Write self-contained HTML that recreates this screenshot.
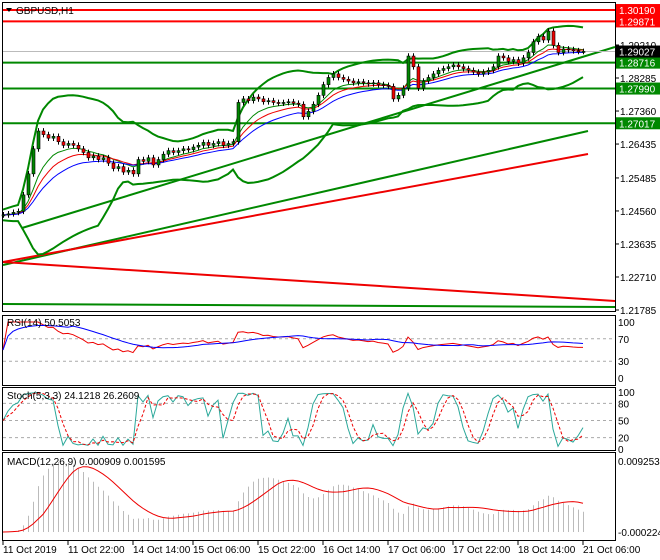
<!DOCTYPE html>
<html><head><meta charset="utf-8"><style>
body{margin:0;background:#fff;}
svg{display:block;font-family:"Liberation Sans",sans-serif;font-size:10px;}
</style></head><body>
<svg id="c" width="660" height="560"></svg>
<script>
const closes=[1.2445,1.2448,1.2452,1.2455,1.2501,1.2560,1.2630,1.2680,1.2670,1.2660,1.2665,1.2650,1.2640,1.2645,1.2640,1.2630,1.2620,1.2605,1.2610,1.2600,1.2605,1.2590,1.2575,1.2580,1.2565,1.2570,1.2560,1.2600,1.2595,1.2605,1.2585,1.2600,1.2615,1.2625,1.2620,1.2625,1.2630,1.2628,1.2635,1.2640,1.2648,1.2640,1.2645,1.2650,1.2640,1.2645,1.2650,1.2760,1.2770,1.2765,1.2775,1.2770,1.2762,1.2765,1.2760,1.2758,1.2760,1.2762,1.2758,1.2755,1.2720,1.2735,1.2755,1.2780,1.2810,1.2830,1.2840,1.2830,1.2825,1.2820,1.2815,1.2818,1.2815,1.2812,1.2815,1.2810,1.2808,1.2805,1.2770,1.2780,1.2800,1.2890,1.2860,1.2800,1.2820,1.2830,1.2840,1.2850,1.2855,1.2860,1.2865,1.2860,1.2855,1.2850,1.2845,1.2840,1.2845,1.2850,1.2860,1.2890,1.2885,1.2875,1.2880,1.2870,1.2885,1.2900,1.2930,1.2945,1.2935,1.2960,1.2920,1.2900,1.2910,1.2908,1.2905,1.2903,1.2903];
const hLevels=[1.30190,1.29871,1.28716,1.27990,1.27017];
const hColors=["#f00","#f00","#080","#080","#080"];
const priceTicks=[1.29210,1.28285,1.27360,1.26435,1.25485,1.24560,1.23635,1.22710,1.21785];
const timeLabels=["11 Oct 2019","11 Oct 22:00","14 Oct 14:00","15 Oct 06:00","15 Oct 22:00","16 Oct 14:00","17 Oct 06:00","17 Oct 22:00","18 Oct 14:00","21 Oct 06:00"];
const timeIdx=[0,13,26,38,51,64,77,90,103,116];
const lastPrice=1.29027;

const S=document.getElementById('c');const NS="http://www.w3.org/2000/svg";
function el(t,a,p){const e=document.createElementNS(NS,t);for(const k in a)e.setAttribute(k,a[k]);(p||S).appendChild(e);return e;}
const X=i=>3+5*i;
const Y=p=>45+(1.2921-p)*3569;
const R=615;
let f;
f=el('rect',{x:2.5,y:2.5,width:R-2,height:309,fill:'none',stroke:'#000'});
f=el('rect',{x:2.5,y:315.5,width:R-2,height:70,fill:'none',stroke:'#000'});
f=el('rect',{x:2.5,y:387.5,width:R-2,height:63,fill:'none',stroke:'#000'});
f=el('rect',{x:2.5,y:452.5,width:R-2,height:88,fill:'none',stroke:'#000'});

function L(x1,y1,x2,y2,c,n){const l=el('line',{x1,y1,x2,y2,stroke:c,'stroke-width':2});}
L(22,228,R,47,'#080','trend-line-upper');
L(3,265,588,131,'#080','trend-line-channel');
L(3,262,588,154,'#e00','trend-line-red-up');
L(3,262,R,301,'#e00','trend-line-red-down');
L(3,304,R,307,'#080','trend-line-bottom');
el('line',{x1:3,x2:R,y1:Y(lastPrice),y2:Y(lastPrice),stroke:'#bbb'});
hLevels.forEach((p,i)=>{const l=el('line',{x1:3,x2:R,y1:Y(p),y2:Y(p),stroke:hColors[i],'stroke-width':2});});

function sma(a,n,i){let s=0,c=0;for(let k=Math.max(0,i-n+1);k<=i;k++){s+=a[k];c++;}return s/c;}
function ema(a,n){const r=[];const k=2/(n+1);a.forEach((v,i)=>r.push(i?v*k+r[i-1]*(1-k):v));return r;}
const up=[],lo=[];
closes.forEach((c,i)=>{const m=sma(closes,20,i);let v=0,n=0;for(let k=Math.max(0,i-19);k<=i;k++){v+=(closes[k]-m)**2;n++;}const sd=Math.sqrt(v/n);up.push(m+2*sd+0.0015);lo.push(m-2*sd-0.0015);});
function poly(vals,c,w,n,yf){const pts=vals.map((v,i)=>X(i)+','+yf(v)).join(' ');const p=el('polyline',{points:pts,fill:'none',stroke:c,'stroke-width':w});}
poly(up,'#080',2,'bollinger-upper',Y);poly(lo,'#080',2,'bollinger-lower',Y);
poly(ema(closes,8),'#080',1,'ma-green',Y);poly(ema(closes,12),'#e00',1,'ma-red',Y);poly(ema(closes,18),'#00f',1,'ma-blue',Y);

closes.forEach((c,i)=>{const o=i?closes[i-1]:c;const h=Math.max(o,c)+0.0008,l=Math.min(o,c)-0.0008;
const g=el('g',{});
el('line',{x1:X(i)+.5,x2:X(i)+.5,y1:Y(h),y2:Y(l),stroke:'#000'},g);
const t=Math.min(Y(o),Y(c));el('rect',{x:X(i)-1,y:t,width:3,height:Math.max(1,Math.abs(Y(o)-Y(c))),fill:c>=o?'#080':'#e00',stroke:'#000','stroke-width':.6},g);});

priceTicks.forEach(p=>{el('line',{x1:R,x2:R+4,y1:Y(p),y2:Y(p),stroke:'#000'});const t=el('text',{x:620,y:Y(p)+4,fill:'#000'});t.textContent=p.toFixed(5);});
function tag(p,bg,n){el('rect',{x:616,y:Y(p)-6,width:44,height:12,fill:bg});const t=el('text',{x:619,y:Y(p)+4,fill:'#fff'});t.textContent=p.toFixed(5);}
hLevels.forEach((p,i)=>tag(p,hColors[i]=='#f00'?'#f00':'#080','level-label'));
tag(lastPrice,'#000','last-price-label');
let tt=el('text',{x:16,y:14,fill:'#000'});tt.textContent='GBPUSD,H1';
el('path',{d:'M6 8h6l-3 4z',fill:'#000'});

const rsi=[];{let ag=0,al=0;closes.forEach((c,i)=>{if(!i){rsi.push(50);return;}const d=c-closes[i-1];ag=(ag*13+Math.max(d,0))/14;al=(al*13+Math.max(-d,0))/14;rsi.push(al+ag?100*ag/(ag+al):50);});}
const rsiMa=rsi.map((v,i)=>sma(rsi,14,i));
const YR=v=>378-v*0.56;
[70,30].forEach(v=>el('line',{x1:3,x2:R,y1:YR(v),y2:YR(v),stroke:'#aaa','stroke-dasharray':'3,3'}));
poly(rsi,'#e00',1,'rsi-line',YR);poly(rsiMa,'#00f',1,'rsi-ma-line',YR);
[[100,'100'],[70,'70'],[30,'30'],[0,'0']].forEach(a=>{const t=el('text',{x:618,y:YR(a[0])+4});t.textContent=a[1];});
tt=el('text',{x:7,y:326});tt.textContent='RSI(14) 50.5053';

const kRaw=closes.map((c,i)=>{let h=-1e9,l=1e9;for(let k=Math.max(0,i-4);k<=i;k++){const o=k?closes[k-1]:closes[k];h=Math.max(h,closes[k],o);l=Math.min(l,closes[k],o);}h+=0.0003;l-=0.0003;return 100*(c-l)/(h-l);});
const kL=kRaw,dL=kL.map((v,i)=>sma(kL,3,i));
const YS=v=>449-v*0.57;
[80,50,20].forEach(v=>el('line',{x1:3,x2:R,y1:YS(v),y2:YS(v),stroke:'#aaa','stroke-dasharray':'3,3'}));
poly(kL,'#2aa89a',1,'stoch-k-line',YS);
const dp=el('polyline',{points:dL.map((v,i)=>X(i)+','+YS(v)).join(' '),fill:'none',stroke:'#e00','stroke-dasharray':'3,2'});
[[100,'100'],[80,'80'],[50,'50'],[20,'20'],[0,'0']].forEach(a=>{const t=el('text',{x:618,y:YS(a[0])+4});t.textContent=a[1];});
tt=el('text',{x:7,y:399});tt.textContent='Stoch(5,3,3) 24.1218 26.2609';

const e12=ema(closes,12),e26=ema(closes,26);const macd=e12.map((v,i)=>v-e26[i]);
const sig=macd.map((v,i)=>sma(macd,9,i));
const mx=Math.max(...macd,...sig),mn=Math.min(...macd,...sig);
const YM=v=>532-(v-mn)/(mx-mn)*70;
macd.forEach((v,i)=>{const b=el('line',{x1:X(i)+.5,x2:X(i)+.5,y1:532,y2:YM(v),stroke:'#bbb'});});
poly(sig,'#e00',1,'macd-signal-line',YM);
let t1=el('text',{x:618,y:465});t1.textContent='0.009253';
t1=el('text',{x:618,y:536});t1.textContent='-0.000224';
tt=el('text',{x:7,y:465});tt.textContent='MACD(12,26,9) 0.000909 0.001595';

timeIdx.forEach((ix,i)=>{const x=X(ix);el('line',{x1:x,x2:x,y1:541,y2:545,stroke:'#000'});const t=el('text',{x:x,y:553});t.textContent=timeLabels[i];});
</script>
</body></html>
